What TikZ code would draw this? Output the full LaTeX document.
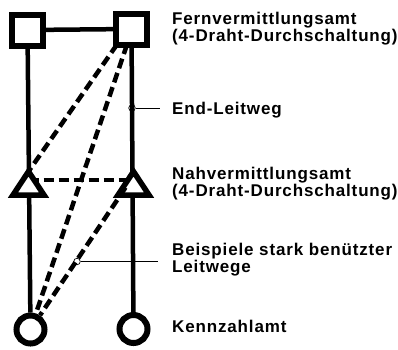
\documentclass[tikz,border=0pt]{standalone}
\usepackage{fontspec}
\newfontfamily\lblfont[LetterSpace=5]{Liberation Sans}
\usetikzlibrary{shapes.geometric,backgrounds,calc}
\tikzset{
  amt/.style={rectangle, draw, line width=6pt, fill=white, minimum size=31pt, inner sep=0pt, outer sep=0pt},
  nah/.style={isosceles triangle, shape border rotate=90, isosceles triangle stretches,
    minimum width=31pt, minimum height=23.5pt, draw, line width=5.5pt, fill=white, inner sep=0pt, outer sep=0pt, anchor=south},
  kz/.style={circle, draw, line width=6pt, minimum size=28pt, fill=white, inner sep=0pt, outer sep=3pt},
  trunk/.style={line width=4.5pt},
  route/.style={line width=4.5pt, dash pattern=on 10pt off 5pt},
  lead/.style={line width=0.7pt},
  marker/.style={circle, draw, line width=0.7pt, minimum size=6.5pt, inner sep=0pt},
  lbl/.style={anchor=base west, inner sep=0pt, font=\lblfont\bfseries\fontsize{17}{17}\selectfont}
}
\begin{document}
\begin{tikzpicture}[x=1pt,y=-1pt]
\useasboundingbox (0,0) rectangle (398,349);
% nodes
\node[amt] (F1) at (27.5,30) {};
\node[amt] (F2) at (131.5,29) {};
\node[nah] (N1) at (28.5,195) {};
\node[nah] (N2) at (133.5,195) {};
\node[kz] (K1) at (30.5,329.5) {};
\node[kz] (K2) at (133.5,329) {};
\begin{scope}[on background layer]
  \draw[trunk] (F1) -- (F2);
  \draw[trunk] (F1) -- (K1);
  \draw[trunk] (F2) -- (K2);
  \draw[route] ($(F2.south)+(-14.5,0)$) -- (N1.apex);
  \draw[route] ($(F2.south)+(-4.5,0)$) -- (K1);
  \draw[route] ($(N1.south)+(0,-15)$) -- ($(N2.south)+(0,-15)$);
\end{scope}
\coordinate (S3) at ($(N2.south)+(-8,-7.5)$);
\draw[route] (S3) -- (K1);
% markers and leaders
\node[marker] (M1) at (132,108) {};
\coordinate (E1) at (160,108);
\draw[lead] (M1.east) -- (E1);
\node[marker] (M2) at (77,261.5) {};
\coordinate (E2) at (158,261.5);
\draw[lead] (M2.east) -- (E2);
% labels
\node[lbl] (T1) at (172,24.3) {Fernvermittlungsamt};
\node[lbl] (T2) at (172,41) {(4-Draht-Durchschaltung)};
\node[lbl] (T3) at (172,114.5) {End-Leitweg};
\node[lbl] (T4) at (172,179) {Nahvermittlungsamt};
\node[lbl] (T5) at (172,196) {(4-Draht-Durchschaltung)};
\node[lbl] (T6) at (172,255.5) {Beispiele stark benützter};
\node[lbl] (T7) at (172,272.3) {Leitwege};
\node[lbl] (T8) at (172,332.5) {Kennzahlamt};
\end{tikzpicture}
\end{document}
